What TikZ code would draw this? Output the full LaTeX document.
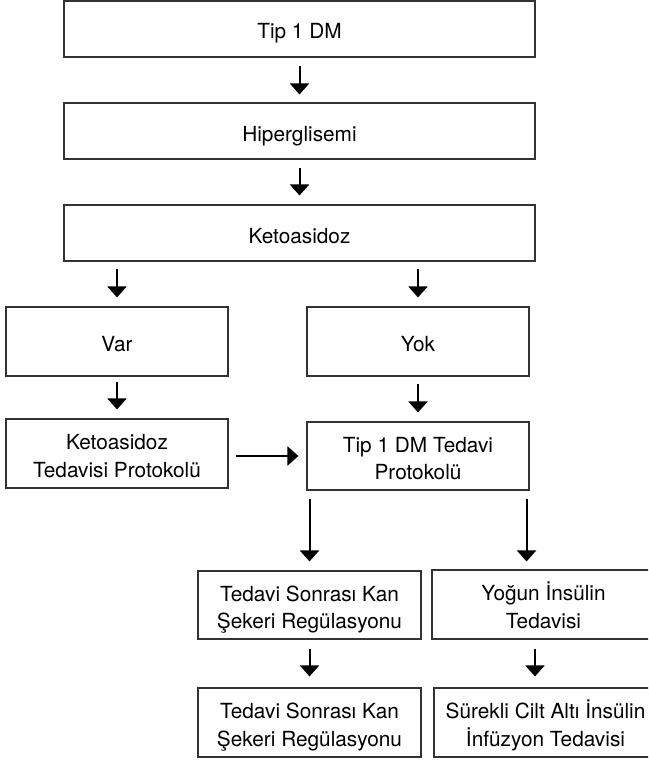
\documentclass[tikz,border=0pt]{standalone}
\usepackage{fontspec}
\setmainfont{TeX Gyre Heros}
\usetikzlibrary{arrows.meta}
\newcommand\onel[1]{\raisebox{0pt}[20pt][0pt]{#1}}
\newcommand\twol[2]{\raisebox{0pt}[47.5pt][0pt]{\begin{tabular}[b]{@{}c@{}}#1\\#2\end{tabular}}}
\begin{document}
\begin{tikzpicture}[x=1pt,y=-1pt,
  box/.style={draw=black!80, line width=1.1pt, inner sep=0pt, font=\fontsize{20.8}{27.5}\selectfont},
  wide/.style={box, minimum width=471pt, minimum height=56pt},
  mid/.style={box, minimum width=222pt, minimum height=69pt},
  arr/.style={line width=2pt, -{Triangle[length=11pt,width=19pt]}}]
\clip (0,0) rectangle (648,760);
\node[wide] (t1dm) at (299.5,29) {\onel{Tip 1 DM}};
\node[wide] (hiper) at (299.5,131) {\onel{Hiperglisemi}};
\node[wide] (keto) at (299.5,233) {\onel{Ketoasidoz}};
\node[mid] (var) at (117,341.5) {\onel{Var}};
\node[mid] (yok) at (418,341.5) {\onel{Yok}};
\node[mid] (ketoted) at (117,453.5) {\twol{Ketoasidoz}{Tedavisi Protokolü}};
\node[mid, minimum height=68pt] (t1ted) at (418,456) {\twol{Tip 1 DM Tedavi}{Protokolü}};
\node[mid, minimum width=223pt, minimum height=68pt] (sonra1) at (309.5,605) {\twol{Tedavi Sonrası Kan}{Şekeri Regülasyonu}};
\node[mid, minimum width=223pt] (yogun) at (543.5,604.5) {\twol{Yoğun İnsülin}{Tedavisi}};
\node[mid, minimum width=223pt] (sonra2) at (309.5,722.5) {\twol{Tedavi Sonrası Kan}{Şekeri Regülasyonu}};
\node[mid, minimum width=223pt] (surekli) at (545.5,722.5) {\twol{Sürekli Cilt Altı İnsülin}{İnfüzyon Tedavisi}};
\draw[arr, shorten <=8pt, shorten >=8pt] (t1dm) -- (hiper);
\draw[arr, shorten <=8pt, shorten >=9pt] (hiper) -- (keto);
\draw[arr, shorten <=7pt, shorten >=9pt] (var.north |- keto.south) -- (var.north);
\draw[arr, shorten <=7pt, shorten >=9pt] (yok.north |- keto.south) -- (yok.north);
\draw[arr, shorten <=5pt, shorten >=9pt] (var) -- (ketoted);
\draw[arr, shorten <=7pt, shorten >=9pt] (yok) -- (t1ted);
\draw[arr, shorten <=7pt, shorten >=8pt] (ketoted.east |- t1ted.west) -- (t1ted.west);
\draw[arr, shorten <=8pt, shorten >=9pt] (sonra1.north |- t1ted.south) -- (sonra1.north);
\coordinate (c1) at ([xshift=-3pt]t1ted.south east);
\draw[arr, shorten <=8pt, shorten >=8pt] (c1) -- (c1 |- yogun.north);
\draw[arr, shorten <=9pt, shorten >=11pt] (sonra1) -- (sonra2);
\coordinate (c2) at ([xshift=-8.5pt]yogun.south);
\draw[arr, shorten <=9pt, shorten >=11pt] (c2) -- (c2 |- surekli.north);
\end{tikzpicture}
\end{document}
